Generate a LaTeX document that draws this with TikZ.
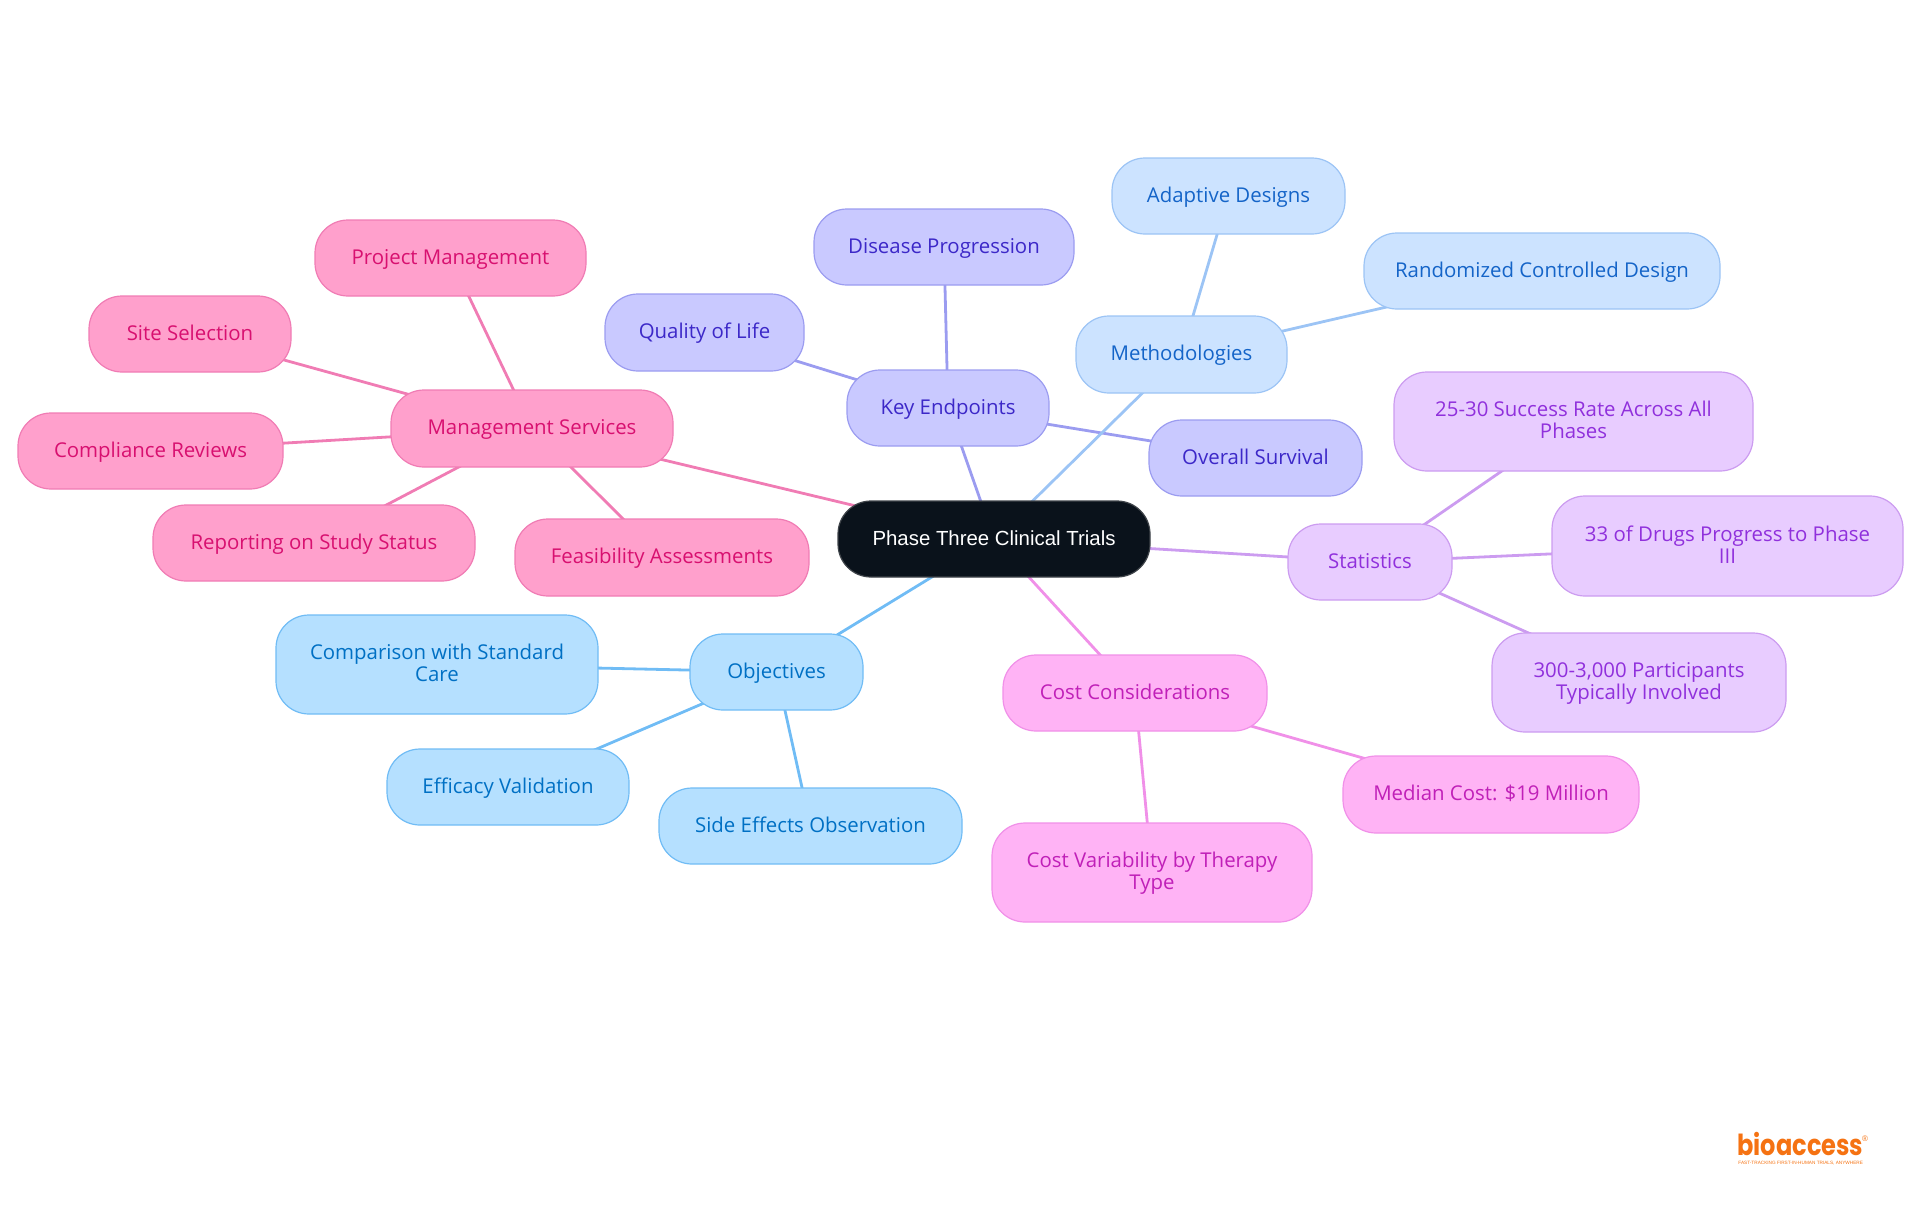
\documentclass[tikz,border=0pt]{standalone}
\usepackage{fontspec}
\setmainfont{Open Sans}
\newfontfamily\rootfont{Liberation Sans}
\newfontfamily\logofont[FakeStretch=0.83]{Poppins}
\usetikzlibrary{backgrounds}
\definecolor{cRoot}{HTML}{0A121B}
\definecolor{lRoot}{HTML}{3F444A}
\definecolor{fBlue}{HTML}{B5E0FF}\definecolor{lBlue}{HTML}{70BCF5}\definecolor{tBlue}{HTML}{0070C4}
\definecolor{fInd}{HTML}{C9C9FF}\definecolor{lInd}{HTML}{9B9CF0}\definecolor{tInd}{HTML}{3C28C8}
\definecolor{fSky}{HTML}{CCE3FF}\definecolor{lSky}{HTML}{9CC4F5}\definecolor{tSky}{HTML}{1464C8}
\definecolor{fPur}{HTML}{E8CCFF}\definecolor{lPur}{HTML}{CC9CF0}\definecolor{tPur}{HTML}{9030DC}
\definecolor{fMag}{HTML}{FFB3F5}\definecolor{lMag}{HTML}{F090E8}\definecolor{tMag}{HTML}{C020B8}
\definecolor{fPnk}{HTML}{FFA0CC}\definecolor{lPnk}{HTML}{F07CB4}\definecolor{tPnk}{HTML}{D81070}
\definecolor{cLogo}{HTML}{F57212}
\tikzset{
  mm/.style={rectangle,rounded corners=16.5pt,inner sep=0pt,outer sep=0pt,line width=.6pt,align=center,
    font=\fontsize{10.2}{11}\selectfont},
  rootbox/.style={mm,fill=cRoot,draw=lRoot,text=white,font=\rootfont\fontsize{10.2}{11}\selectfont},
  blueb/.style={mm,fill=fBlue,draw=lBlue,text=tBlue},
  indb/.style={mm,fill=fInd,draw=lInd,text=tInd},
  skyb/.style={mm,fill=fSky,draw=lSky,text=tSky},
  purb/.style={mm,fill=fPur,draw=lPur,text=tPur},
  magb/.style={mm,fill=fMag,draw=lMag,text=tMag},
  pnkb/.style={mm,fill=fPnk,draw=lPnk,text=tPnk},
  link/.style={line width=1.4pt},
}
\newcommand{\mmstrut}{\rule[-2.3pt]{0pt}{11pt}}
\newcommand{\mmnode}[7]{%
  \node[#6,minimum width={(#3-#2)*0.5pt},minimum height={(#5-#4)*0.5pt}] (#1)
    at ({(#2+#3)/2},{-(#4+#5)/2}) {\mmstrut #7\mmstrut};}
\newcommand{\mmlink}[3]{\draw[link,draw=#3] (#1.center) -- (#2.center);}
\begin{document}
\begin{tikzpicture}[x=0.5pt,y=0.5pt]
\useasboundingbox (0,0) rectangle (1920,-1215);
\mmnode{root}{838}{1150}{501}{577}{rootbox}{Phase Three Clinical Trials}
\mmnode{obj}{690}{863}{634}{710}{blueb}{Objectives}
\mmnode{cmp}{276}{598}{615}{714}{blueb}{\smash{Comparison with Standard}\\Care}
\mmnode{eff}{387}{629}{749}{825}{blueb}{Efficacy Validation}
\mmnode{sid}{659}{962}{788}{864}{blueb}{Side Effects Observation}
\mmnode{key}{847}{1049}{370}{446}{indb}{Key Endpoints}
\mmnode{dis}{814}{1074}{209}{285}{indb}{Disease Progression}
\mmnode{qol}{605}{804}{294}{371}{indb}{Quality of Life}
\mmnode{ovr}{1149}{1362}{420}{496}{indb}{Overall Survival}
\mmnode{met}{1076}{1287}{316}{393}{skyb}{Methodologies}
\mmnode{ada}{1112}{1345}{158}{234}{skyb}{Adaptive Designs}
\mmnode{ran}{1364}{1720}{233}{309}{skyb}{Randomized Controlled Design}
\mmnode{sta}{1288}{1452}{524}{600}{purb}{Statistics}
\mmnode{suc}{1394}{1753}{372}{471}{purb}{\smash{25-30 Success Rate Across All}\\Phases}
\mmnode{drg}{1552}{1903}{496}{596}{purb}{\smash{33 of Drugs Progress to Phase}\\III}
\mmnode{par}{1492}{1786}{633}{732}{purb}{\smash{300-3,000 Participants}\\Typically Involved}
\mmnode{cst}{1003}{1267}{655}{731}{magb}{Cost Considerations}
\mmnode{med}{1343}{1639}{756}{833}{magb}{Median Cost: \$19 Million}
\mmnode{var}{992}{1312}{823}{922}{magb}{\smash{Cost Variability by Therapy}\\Type}
\mmnode{mgt}{391}{673}{390}{467}{pnkb}{Management Services}
\mmnode{prj}{315}{586}{220}{296}{pnkb}{Project Management}
\mmnode{sit}{89}{291}{296}{372}{pnkb}{Site Selection}
\mmnode{cpl}{18}{283}{413}{489}{pnkb}{Compliance Reviews}
\mmnode{rep}{153}{475}{505}{581}{pnkb}{Reporting on Study Status}
\mmnode{fea}{515}{809}{519}{596}{pnkb}{Feasibility Assessments}
\begin{scope}[on background layer]
\mmlink{root}{obj}{lBlue}\mmlink{obj}{cmp}{lBlue}\mmlink{obj}{eff}{lBlue}\mmlink{obj}{sid}{lBlue}
\mmlink{root}{key}{lInd}\mmlink{key}{dis}{lInd}\mmlink{key}{qol}{lInd}\mmlink{key}{ovr}{lInd}
\mmlink{root}{met}{lSky}\mmlink{met}{ada}{lSky}\mmlink{met}{ran}{lSky}
\mmlink{root}{sta}{lPur}\mmlink{sta}{suc}{lPur}\mmlink{sta}{drg}{lPur}\mmlink{sta}{par}{lPur}
\mmlink{root}{cst}{lMag}\mmlink{cst}{med}{lMag}\mmlink{cst}{var}{lMag}
\mmlink{root}{mgt}{lPnk}\mmlink{mgt}{prj}{lPnk}\mmlink{mgt}{sit}{lPnk}\mmlink{mgt}{cpl}{lPnk}\mmlink{mgt}{rep}{lPnk}\mmlink{mgt}{fea}{lPnk}
\end{scope}
\node[anchor=base west,inner sep=0pt,text=cLogo,font=\logofont\bfseries\fontsize{14.5}{15}\selectfont] (logo) at (1737,-1155) {bioaccess};
\node[anchor=center,inner sep=0pt,text=cLogo,font=\rootfont\fontsize{4}{5}\selectfont] (reg) at (1865,-1139) {®};
\node[anchor=base west,inner sep=0pt,text=cLogo,font=\rootfont\fontsize{2.35}{3}\selectfont] (tag) at (1738,-1164.5) {FAST-TRACKING FIRST-IN-HUMAN TRIALS, ANYWHERE};
\end{tikzpicture}
\end{document}
